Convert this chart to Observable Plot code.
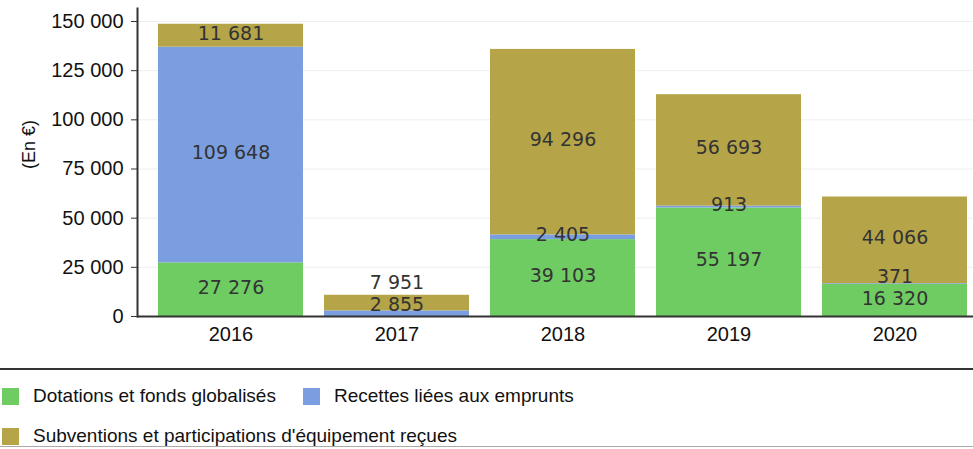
<!DOCTYPE html>
<html>
<head>
<meta charset="utf-8">
<script src="https://cdn.jsdelivr.net/npm/d3@7"></script>
<script src="https://cdn.jsdelivr.net/npm/@observablehq/plot@0.6"></script>
<style>
  body { margin: 0; background: #fff; font-family: "Liberation Sans", Arial, sans-serif; }
  #legend { position: relative; border-top: 2px solid #333; border-bottom: 1px solid #aaa; width: 973px; height: 79px; box-sizing: border-box; margin-top: 8px; }
  .item { position: absolute; display: flex; align-items: center; font-size: 19px; color: #111; white-space: nowrap; }
  .sw { width: 17px; height: 17px; margin-right: 14px; }
</style>
</head>
<body>
<div id="chart"></div>
<div id="legend"></div>
<script>
const years = ["2016", "2017", "2018", "2019", "2020"];
const series = ["Dotations et fonds globalisés", "Recettes liées aux emprunts", "Subventions et participations d'équipement reçues"];
const colors = ["#6fcc63", "#7b9ee0", "#b5a548"];
const dotations = [27276, 0, 39103, 55197, 16320];
const emprunts = [109648, 2855, 2405, 913, 371];
const subventions = [11681, 7951, 94296, 56693, 44066];
const yTicks = [0, 25000, 50000, 75000, 100000, 125000, 150000];

const fmt = d => d3.format(",")(d).replace(/,/g, " ");
const cols = [dotations, emprunts, subventions];
const data = [];
years.forEach((y, i) => {
  cols.forEach((c, s) => {
    if (c[i] > 0) data.push({year: y, serie: series[s], value: c[i]});
  });
});

// label positions: segment centres, nudged to avoid overlap
const yDomain = [0, 150000], yRange = [316, 21];
const perPx = (yDomain[1] - yDomain[0]) / (yRange[0] - yRange[1]);
const labels = [];
years.forEach((y, i) => {
  let base = 0, prev = null;
  cols.forEach((c, s) => {
    if (c[i] <= 0) return;
    let mid = base + c[i] / 2;
    if (prev === null) mid = Math.max(mid, 10 * perPx);
    else mid = Math.max(mid, prev + 22 * perPx);
    labels.push({year: y, value: c[i], pos: mid});
    prev = mid;
    base += c[i];
  });
});

const chart = Plot.plot({
  width: 973,
  height: 360,
  marginLeft: 137,
  marginRight: 0,
  marginTop: 21,
  marginBottom: 44,
  style: {fontFamily: "'Liberation Sans', Arial, sans-serif", fontSize: "20px", color: "#111"},
  x: {domain: years, range: [137, 987], paddingInner: 0.127, paddingOuter: 0.12, label: null},
  y: {domain: yDomain, range: yRange, label: null},
  color: {domain: series, range: colors},
  marks: [
    Plot.gridY(yTicks, {stroke: "#eee", strokeOpacity: 1}),
    Plot.barY(data, {x: "year", y: "value", fill: "serie", order: series}),
    Plot.ruleY([0], {stroke: "#333", strokeWidth: 2}),
    Plot.frame({anchor: "left", stroke: "#333", strokeWidth: 2, insetTop: -13}),
    Plot.axisY(yTicks, {tickFormat: fmt, tickSize: 6, tickPadding: 8, fontSize: 20, stroke: "#333"}),
    Plot.axisX({tickSize: 0, tickPadding: 10, fontSize: 20}),
    Plot.text(labels, {x: "year", y: "pos", text: d => fmt(d.value), fill: "#333", fontSize: 19, fontFamily: "'DejaVu Sans', sans-serif", dy: -2}),
    Plot.text(["(En €)"], {frameAnchor: "left", dx: -108, rotate: -90, fontSize: 18, fill: "#111"})
  ]
});
document.getElementById("chart").append(chart);

const legend = document.getElementById("legend");
const pos = [[2, 15], [303, 15], [2, 55]];
series.forEach((s, k) => {
  const it = document.createElement("div");
  it.className = "item";
  it.style.left = pos[k][0] + "px";
  it.style.top = pos[k][1] + "px";
  const sw = document.createElement("div");
  sw.className = "sw";
  sw.style.background = colors[k];
  const t = document.createElement("span");
  t.textContent = s;
  it.append(sw, t);
  legend.append(it);
});
</script>
</body>
</html>
